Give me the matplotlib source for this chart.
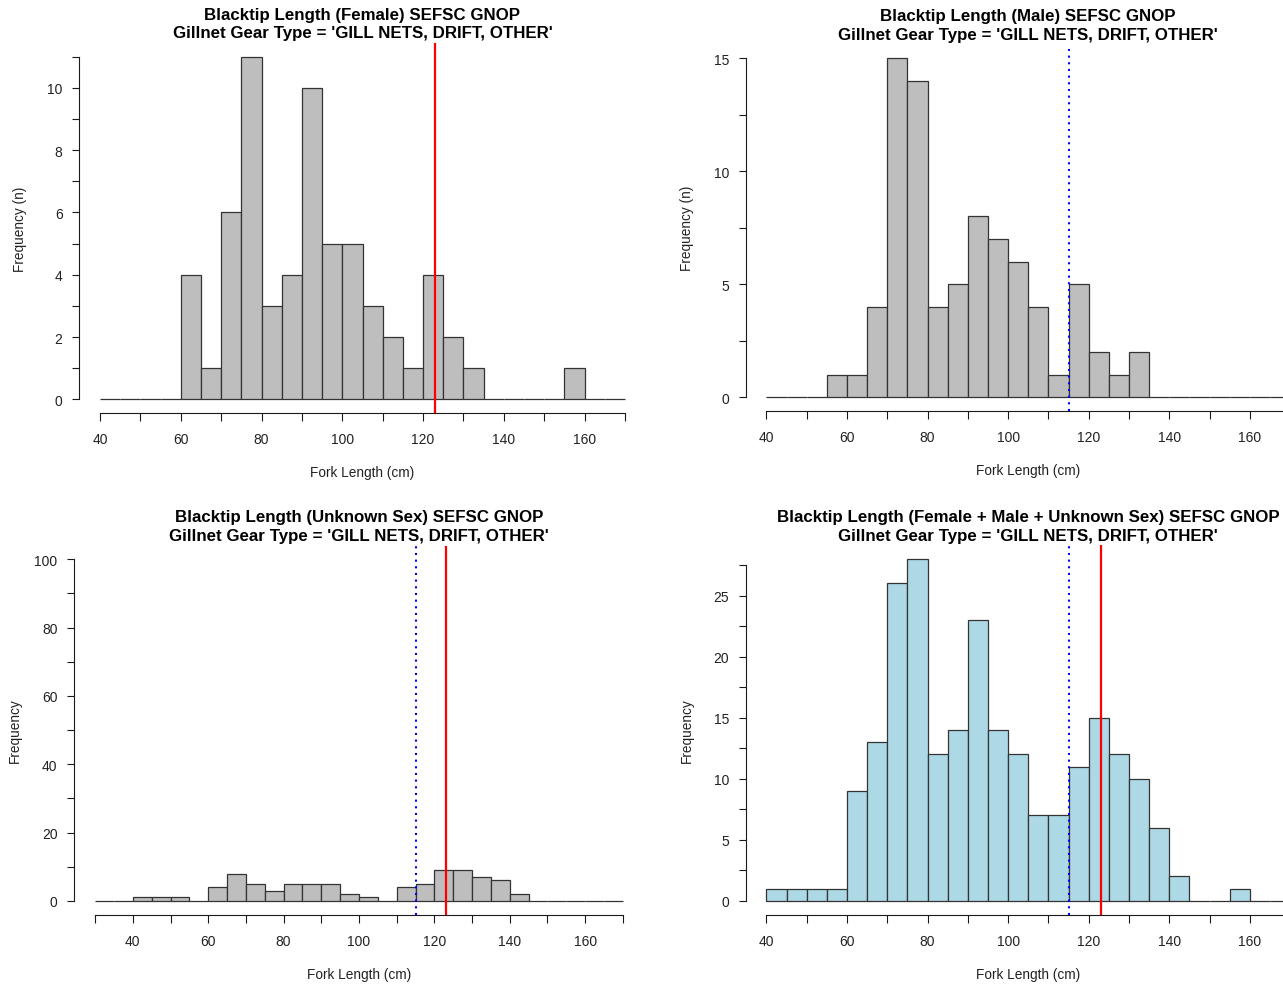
import numpy as np
import matplotlib
matplotlib.use('Agg')
import matplotlib.pyplot as plt

plt.rcParams['font.family'] = ['Liberation Sans', 'DejaVu Sans']

W, H = 1283, 987

# bin edges (5 cm bins)
edges_main = np.arange(40, 175, 5)
edges_unknown = np.arange(30, 175, 5)

# counts per bin
female_counts = [0, 0, 0, 0, 4, 1, 6, 11, 3, 4, 10, 5, 5, 3, 2, 1, 4, 2, 1,
                 0, 0, 0, 0, 1, 0, 0]
male_counts = [0, 0, 0, 1, 1, 4, 15, 14, 4, 5, 8, 7, 6, 4, 1, 5, 2, 1, 2,
               0, 0, 0, 0, 0, 0, 0]
unknown_counts = [0, 0, 1, 1, 1, 0, 4, 8, 5, 3, 5, 5, 5, 2, 1, 0, 4, 5, 9,
                  9, 7, 6, 2, 0, 0, 0, 0, 0]
total_counts = [1, 1, 1, 1, 9, 13, 26, 28, 12, 14, 23, 14, 12, 7, 7, 11, 15,
                12, 10, 6, 2, 0, 0, 1, 0, 0]

red_line = 123
blue_line = 115

gear = "Gillnet Gear Type = 'GILL NETS, DRIFT, OTHER'"
titles = ["Blacktip Length (Female) SEFSC GNOP",
          "Blacktip Length (Male) SEFSC GNOP",
          "Blacktip Length (Unknown Sex) SEFSC GNOP",
          "Blacktip Length (Female + Male + Unknown Sex) SEFSC GNOP"]

fig = plt.figure(figsize=(W / 100, H / 100), dpi=100)


def panel(left, right, top, bottom):
    return fig.add_axes([left / W, 1 - bottom / H, (right - left) / W, (bottom - top) / H])


def px(p):
    return p * 0.72


def draw_hist(ax, edges, counts, color, ymax, ytick_max, tick_step, label_step,
              ylabel, title, red=False, blue=False):
    ax.bar(edges[:-1], counts, width=5, align='edge', color=color,
           edgecolor='#333333', linewidth=0.9)
    x0, x1 = edges[0], edges[-1]
    dx = 0.04 * (x1 - x0)
    ax.set_xlim(x0 - dx, x1 + dx)
    ax.set_ylim(-0.04 * ymax, ymax * 1.04)

    yt = np.arange(0, ytick_max + tick_step / 2, tick_step)
    ax.set_yticks(yt)
    ax.set_yticklabels([f'{v:g}' if abs(v / label_step - round(v / label_step)) < 1e-9 else ''
                        for v in yt])
    xt = np.arange(x0, x1 + 1, 10)
    ax.set_xticks(xt)
    ax.set_xticklabels([f'{v:g}' if v % 20 == 0 else '' for v in xt])

    for s in ['top', 'right']:
        ax.spines[s].set_visible(False)
    ax.spines['left'].set_bounds(0, ytick_max)
    ax.spines['bottom'].set_bounds(x0, x1)
    for s in ['left', 'bottom']:
        ax.spines[s].set_linewidth(0.8)
        ax.spines[s].set_color('#1a1a1a')
    ax.tick_params(axis='both', direction='out', length=px(7.5), width=0.8,
                   colors='#1a1a1a', labelsize=10)
    ax.tick_params(axis='x', pad=px(12))
    ax.tick_params(axis='y', pad=px(9))
    for lab in ax.get_xticklabels() + ax.get_yticklabels():
        lab.set_color('#222222')

    if blue:
        ax.axvline(blue_line, color='blue', linewidth=1.5, linestyle=(0, (1, 2.2)))
    if red:
        ax.axvline(red_line, color='red', linewidth=1.6)

    ax.annotate('Fork Length (cm)', xy=(0.5, 0), xycoords='axes fraction',
                xytext=(0, -px(59.5)), textcoords='offset points',
                ha='center', va='center', fontsize=9.8, color='#222222')
    ax.annotate(ylabel, xy=(0, 0.5), xycoords='axes fraction',
                xytext=(-px(59), 0), textcoords='offset points', rotation=90,
                ha='center', va='center', fontsize=9.8, color='#222222')
    ax.annotate(title + '\n' + gear, xy=(0.5, 1), xycoords='axes fraction',
                xytext=(0, px(19.5)), textcoords='offset points',
                ha='center', va='center', fontsize=12.2, fontweight='bold',
                linespacing=1.32)
    ax.patch.set_visible(False)


ax1 = panel(79, 646, 44, 414)
draw_hist(ax1, edges_main, female_counts, '#bebebe', 11, 11, 1, 2,
          'Frequency (n)', titles[0], red=True)

ax2 = panel(745.5, 1311, 45.7, 411.7)
draw_hist(ax2, edges_main, male_counts, '#bebebe', 15, 15, 2.5, 5,
          'Frequency (n)', titles[1], blue=True)

ax3 = panel(74, 644, 546.6, 915.5)
draw_hist(ax3, edges_unknown, unknown_counts, '#bebebe', 100, 100, 10, 20,
          'Frequency', titles[2], red=True, blue=True)

ax4 = panel(745.5, 1311, 546.4, 915.5)
draw_hist(ax4, edges_main, total_counts, '#add8e6', 28, 27.5, 2.5, 5,
          'Frequency', titles[3], red=True, blue=True)

fig.savefig('out.png', dpi=100)
